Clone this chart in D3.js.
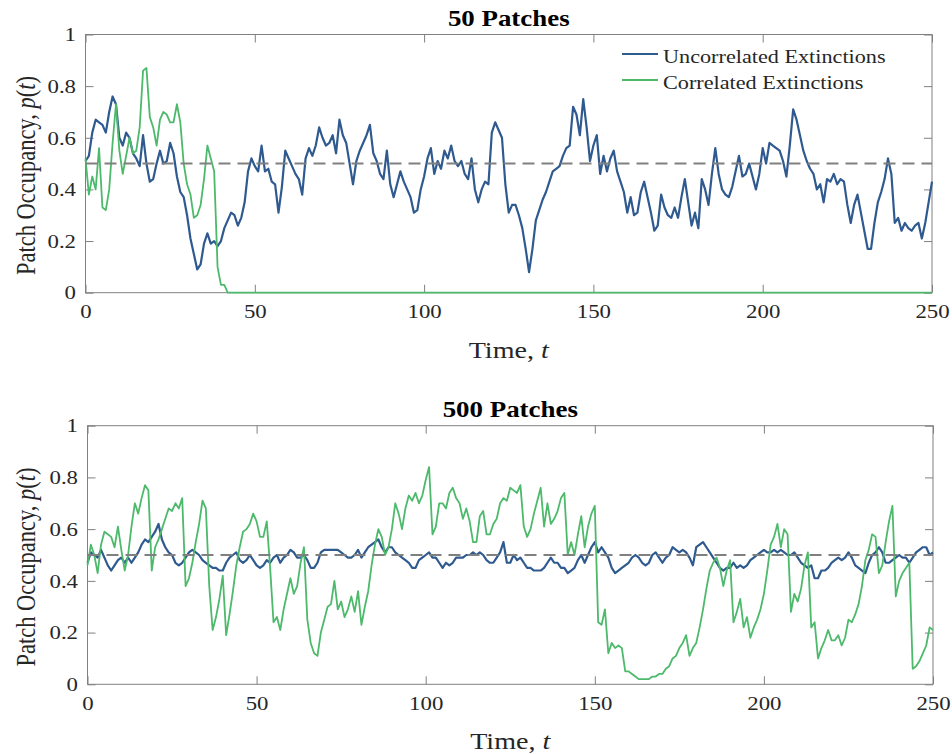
<!DOCTYPE html>
<html>
<head>
<meta charset="utf-8">
<script src="https://cdn.jsdelivr.net/npm/d3@7"></script>
<style>
  body { margin: 0; background: #fff; }
  text { font-family: "Liberation Serif", "Times New Roman", serif; }
</style>
</head>
<body>
<svg id="chart" width="952" height="754"></svg>
<script>
// --- data (one value per time unit, t = 0..250) ---
var times = d3.range(0, 251);
var xTicks = [0, 50, 100, 150, 200, 250];
var yTicks = [0, 0.2, 0.4, 0.6, 0.8, 1];
var yTickLabels = ["0", "0.2", "0.4", "0.6", "0.8", "1"];
var titles = ["50 Patches", "500 Patches"];
var seriesNames = ["Uncorrelated Extinctions", "Correlated Extinctions"];
var threshold = 0.5;

var uncorr50 = [
  0.51,0.53,0.62,0.67,0.66,0.65,0.62,0.70,0.76,0.73,
  0.60,0.57,0.62,0.60,0.54,0.52,0.49,0.61,0.50,0.43,
  0.44,0.50,0.55,0.50,0.51,0.58,0.54,0.45,0.39,0.37,
  0.30,0.21,0.15,0.09,0.11,0.19,0.23,0.19,0.20,0.18,
  0.20,0.25,0.28,0.31,0.30,0.26,0.29,0.35,0.47,0.52,
  0.49,0.47,0.57,0.47,0.48,0.43,0.42,0.31,0.41,0.55,
  0.52,0.49,0.46,0.44,0.38,0.52,0.56,0.53,0.57,0.64,
  0.60,0.57,0.58,0.61,0.54,0.67,0.61,0.58,0.50,0.42,
  0.51,0.55,0.58,0.61,0.65,0.54,0.51,0.46,0.44,0.55,
  0.42,0.37,0.42,0.47,0.43,0.40,0.37,0.31,0.32,0.40,
  0.45,0.52,0.56,0.46,0.51,0.48,0.55,0.52,0.57,0.51,
  0.49,0.51,0.46,0.44,0.52,0.40,0.35,0.40,0.43,0.42,
  0.62,0.66,0.63,0.60,0.42,0.31,0.34,0.34,0.30,0.25,
  0.17,0.08,0.17,0.28,0.32,0.36,0.39,0.43,0.47,0.48,
  0.49,0.53,0.56,0.57,0.72,0.69,0.61,0.75,0.64,0.51,
  0.57,0.61,0.46,0.53,0.47,0.52,0.55,0.47,0.43,0.39,
  0.31,0.37,0.30,0.31,0.39,0.43,0.37,0.31,0.24,0.26,
  0.38,0.33,0.30,0.29,0.33,0.29,0.37,0.44,0.35,0.26,
  0.31,0.25,0.44,0.40,0.34,0.46,0.56,0.46,0.40,0.38,
  0.37,0.41,0.47,0.53,0.45,0.46,0.50,0.45,0.40,0.46,
  0.56,0.50,0.58,0.57,0.56,0.55,0.51,0.45,0.57,0.71,
  0.67,0.61,0.55,0.51,0.48,0.46,0.40,0.42,0.35,0.44,
  0.43,0.46,0.42,0.44,0.43,0.34,0.27,0.34,0.38,0.31,
  0.24,0.17,0.17,0.27,0.35,0.39,0.44,0.52,0.46,0.27,
  0.29,0.24,0.27,0.25,0.24,0.26,0.27,0.21,0.27,0.35,
  0.43
];

var corr50 = [
  0.52,0.38,0.45,0.40,0.56,0.33,0.32,0.40,0.58,0.73,
  0.55,0.46,0.53,0.60,0.54,0.55,0.64,0.86,0.87,0.68,
  0.64,0.57,0.67,0.70,0.69,0.66,0.66,0.73,0.66,0.50,
  0.42,0.38,0.29,0.30,0.34,0.44,0.57,0.52,0.47,0.10,
  0.03,0.03,0,0,0,0,0,0,0,0,
  0,0,0,0,0,0,0,0,0,0, 0,0,0,0,0,0,0,0,0,0,
  0,0,0,0,0,0,0,0,0,0, 0,0,0,0,0,0,0,0,0,0,
  0,0,0,0,0,0,0,0,0,0, 0,0,0,0,0,0,0,0,0,0,
  0,0,0,0,0,0,0,0,0,0, 0,0,0,0,0,0,0,0,0,0,
  0,0,0,0,0,0,0,0,0,0, 0,0,0,0,0,0,0,0,0,0,
  0,0,0,0,0,0,0,0,0,0, 0,0,0,0,0,0,0,0,0,0,
  0,0,0,0,0,0,0,0,0,0, 0,0,0,0,0,0,0,0,0,0,
  0,0,0,0,0,0,0,0,0,0, 0,0,0,0,0,0,0,0,0,0,
  0,0,0,0,0,0,0,0,0,0, 0,0,0,0,0,0,0,0,0,0,
  0,0,0,0,0,0,0,0,0,0, 0,0,0,0,0,0,0,0,0,0,
  0
];

var uncorr500 = [
  0.47,0.51,0.50,0.49,0.52,0.49,0.46,0.44,0.46,0.48,
  0.49,0.47,0.49,0.47,0.49,0.51,0.54,0.56,0.55,0.57,
  0.59,0.62,0.56,0.53,0.51,0.50,0.47,0.46,0.47,0.49,
  0.51,0.52,0.51,0.50,0.48,0.47,0.46,0.45,0.45,0.44,
  0.44,0.47,0.49,0.50,0.51,0.48,0.47,0.48,0.50,0.48,
  0.46,0.45,0.46,0.48,0.47,0.49,0.50,0.47,0.49,0.50,
  0.52,0.51,0.49,0.49,0.50,0.48,0.45,0.45,0.47,0.51,
  0.52,0.52,0.52,0.52,0.52,0.51,0.50,0.49,0.49,0.50,
  0.52,0.49,0.51,0.53,0.54,0.55,0.56,0.53,0.51,0.53,
  0.53,0.51,0.50,0.49,0.48,0.47,0.45,0.45,0.48,0.49,
  0.50,0.51,0.49,0.49,0.47,0.45,0.47,0.46,0.47,0.49,
  0.49,0.49,0.50,0.50,0.51,0.50,0.51,0.50,0.48,0.47,
  0.47,0.49,0.51,0.55,0.47,0.47,0.50,0.48,0.49,0.47,
  0.45,0.45,0.44,0.44,0.44,0.45,0.47,0.49,0.47,0.47,
  0.45,0.45,0.43,0.44,0.45,0.48,0.50,0.47,0.50,0.53,
  0.55,0.51,0.53,0.51,0.49,0.45,0.43,0.44,0.45,0.46,
  0.47,0.49,0.50,0.49,0.47,0.46,0.47,0.50,0.51,0.49,
  0.47,0.49,0.50,0.53,0.52,0.51,0.52,0.51,0.49,0.46,
  0.53,0.54,0.55,0.53,0.51,0.49,0.47,0.45,0.44,0.45,
  0.45,0.47,0.45,0.46,0.45,0.46,0.48,0.49,0.50,0.51,
  0.52,0.51,0.51,0.52,0.51,0.52,0.51,0.50,0.50,0.51,
  0.49,0.47,0.46,0.45,0.46,0.41,0.41,0.44,0.44,0.45,
  0.47,0.48,0.49,0.48,0.49,0.51,0.49,0.46,0.45,0.44,
  0.43,0.47,0.50,0.51,0.53,0.51,0.47,0.47,0.48,0.49,
  0.50,0.49,0.49,0.47,0.49,0.51,0.52,0.53,0.53,0.50,
  0.51
];

var corr500 = [
  0.46,0.54,0.50,0.43,0.54,0.59,0.58,0.57,0.53,0.61,
  0.52,0.44,0.50,0.61,0.70,0.66,0.72,0.77,0.75,0.44,
  0.53,0.56,0.60,0.64,0.68,0.67,0.70,0.68,0.72,0.38,
  0.41,0.47,0.55,0.62,0.71,0.68,0.38,0.21,0.26,0.33,
  0.42,0.19,0.27,0.36,0.46,0.53,0.59,0.60,0.62,0.66,
  0.63,0.57,0.57,0.63,0.45,0.24,0.26,0.21,0.29,0.35,
  0.41,0.35,0.38,0.47,0.53,0.25,0.16,0.12,0.11,0.20,
  0.25,0.30,0.31,0.40,0.29,0.32,0.26,0.29,0.34,0.28,
  0.36,0.23,0.30,0.36,0.46,0.54,0.60,0.57,0.50,0.53,
  0.60,0.70,0.66,0.60,0.68,0.73,0.71,0.74,0.70,0.73,
  0.79,0.84,0.58,0.61,0.70,0.70,0.68,0.74,0.76,0.72,
  0.70,0.64,0.68,0.63,0.55,0.55,0.65,0.67,0.58,0.58,
  0.62,0.64,0.70,0.72,0.71,0.76,0.75,0.74,0.77,0.61,
  0.57,0.60,0.66,0.71,0.76,0.61,0.70,0.62,0.64,0.67,
  0.72,0.74,0.50,0.55,0.50,0.58,0.65,0.53,0.61,0.66,
  0.69,0.24,0.23,0.29,0.12,0.16,0.14,0.15,0.14,0.05,
  0.05,0.04,0.03,0.02,0.02,0.02,0.02,0.03,0.03,0.04,
  0.04,0.06,0.07,0.10,0.11,0.14,0.16,0.19,0.11,0.14,
  0.16,0.22,0.29,0.37,0.44,0.47,0.49,0.45,0.38,0.44,
  0.48,0.24,0.28,0.33,0.22,0.26,0.18,0.22,0.25,0.29,
  0.35,0.44,0.54,0.57,0.62,0.53,0.60,0.58,0.28,0.35,
  0.32,0.37,0.46,0.51,0.22,0.24,0.10,0.14,0.17,0.21,
  0.17,0.17,0.19,0.15,0.18,0.25,0.24,0.27,0.31,0.38,
  0.48,0.52,0.58,0.57,0.43,0.46,0.55,0.63,0.69,0.34,
  0.40,0.43,0.45,0.47,0.06,0.07,0.09,0.12,0.15,0.22,
  0.21
];

// --- styling / layout ---
var colors = ["#2f5a8f", "#4cb96b"];
var lineWidths = [2.2, 1.8];
var axisColor = "#808080";
var textColor = "#262626";
var SX = 1.17;          // the exported figure is a little stretched horizontally
var tickLen = 8;

var panels = [
  {title: titles[0], series: [uncorr50, corr50], left: 85.5, right: 932, top: 34.5, bottom: 292.7, legend: true},
  {title: titles[1], series: [uncorr500, corr500], left: 87.5, right: 933, top: 425.7, bottom: 684.3, legend: false}
];

var svg = d3.select("#chart");

// stretched text helper
function addText(g, x, y, size, anchor) {
  return g.append("text")
    .attr("transform", "translate(" + x + "," + y + ") scale(" + SX + ",1)")
    .attr("text-anchor", anchor)
    .attr("font-size", size)
    .attr("fill", textColor);
}

panels.forEach(function(p) {
  var x = d3.scaleLinear().domain([0, 250]).range([p.left, p.right]);
  var y = d3.scaleLinear().domain([0, 1]).range([p.bottom, p.top]);
  var g = svg.append("g");

  // frame
  g.append("rect")
    .attr("x", p.left).attr("y", p.top)
    .attr("width", p.right - p.left).attr("height", p.bottom - p.top)
    .attr("fill", "none").attr("stroke", axisColor).attr("stroke-width", 1);

  // axes, ticks pointing inward on all four sides
  var xb = g.append("g")
    .attr("transform", "translate(0," + p.bottom + ")")
    .call(d3.axisBottom(x).tickValues(xTicks).tickSizeInner(-tickLen).tickSizeOuter(0).tickPadding(11.5));
  var yl = g.append("g")
    .attr("transform", "translate(" + p.left + ",0)")
    .call(d3.axisLeft(y).tickValues(yTicks).tickSizeInner(-tickLen).tickSizeOuter(0)
      .tickFormat(function(d, i) { return yTickLabels[i]; }));
  g.append("g")
    .attr("transform", "translate(0," + p.top + ")")
    .call(d3.axisTop(x).tickValues(xTicks).tickSizeInner(-tickLen).tickSizeOuter(0).tickFormat(""));
  g.append("g")
    .attr("transform", "translate(" + p.right + ",0)")
    .call(d3.axisRight(y).tickValues(yTicks).tickSizeInner(-tickLen).tickSizeOuter(0).tickFormat(""));

  g.selectAll(".domain").remove();
  g.selectAll(".tick line").attr("stroke", axisColor);

  xb.selectAll("text")
    .attr("font-size", 19.5).attr("font-family", "Liberation Serif")
    .attr("fill", textColor)
    .attr("transform", "scale(" + SX + ",1)");
  yl.selectAll("text")
    .attr("font-size", 19.5).attr("font-family", "Liberation Serif")
    .attr("fill", textColor)
    .attr("x", -9.5 / SX)
    .attr("transform", "scale(" + SX + ",1)");

  // series
  p.series.forEach(function(vals, k) {
    var line = d3.line()
      .x(function(d, i) { return x(times[i]); })
      .y(function(d) { return y(d); });
    g.append("path")
      .datum(vals)
      .attr("d", line)
      .attr("fill", "none")
      .attr("stroke", colors[k])
      .attr("stroke-width", lineWidths[k])
      .attr("stroke-linejoin", "round");
  });

  // 0.5 reference line
  g.append("line")
    .attr("x1", x(0)).attr("x2", x(250))
    .attr("y1", y(threshold)).attr("y2", y(threshold))
    .attr("stroke", "#808080").attr("stroke-width", 2)
    .attr("stroke-dasharray", "12,7");

  // title
  addText(g, (p.left + p.right) / 2, p.top - 9, 23, "middle")
    .attr("font-weight", "bold").attr("fill", "#000")
    .text(p.title);

  // x label
  var xl = addText(g, (p.left + p.right) / 2, p.bottom + 65, 24, "middle");
  xl.append("tspan").text("Time, ");
  xl.append("tspan").attr("font-style", "italic").text("t");

  // y label
  var ylab = g.append("text")
    .attr("transform", "translate(35," + ((p.top + p.bottom) / 2 + 12) + ") scale(" + SX + ",1) rotate(-90)")
    .attr("text-anchor", "middle")
    .attr("font-size", 22.5)
    .attr("fill", textColor);
  ylab.append("tspan").text("Patch Occupancy, ");
  ylab.append("tspan").attr("font-style", "italic").text("p");
  ylab.append("tspan").text("(");
  ylab.append("tspan").attr("font-style", "italic").text("t");
  ylab.append("tspan").text(")");

  // legend
  if (p.legend) {
    var rowsY = [54, 80];
    seriesNames.forEach(function(name, k) {
      g.append("line")
        .attr("x1", 622).attr("x2", 658)
        .attr("y1", rowsY[k]).attr("y2", rowsY[k])
        .attr("stroke", colors[k]).attr("stroke-width", 2.2);
      addText(g, 663, rowsY[k] + 8.8, 19, "start").text(name);
    });
  }
});
</script>
</body>
</html>
